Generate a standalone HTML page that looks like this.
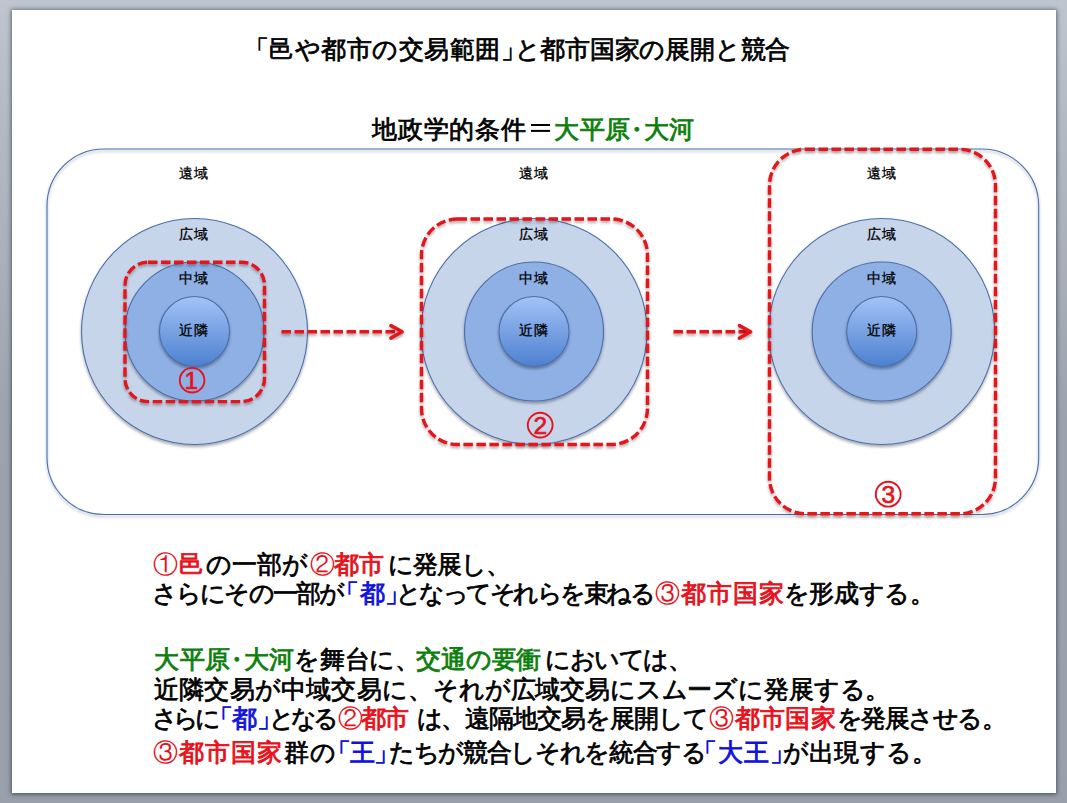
<!DOCTYPE html>
<html lang="ja">
<head>
<meta charset="utf-8">
<style>
html,body{margin:0;padding:0;}
body{width:1067px;height:803px;overflow:hidden;position:relative;
 background:linear-gradient(to bottom,#bec5ce 0px,#b3bac4 120px,#a9b0ba 260px,#9ca3ae 420px,#99a0ab 803px);
 font-family:"Liberation Sans",sans-serif;color:#000;}
#slide{position:absolute;left:12px;top:10px;width:1044px;height:783px;background:#fff;
 box-shadow:0 0 4px 1px rgba(50,56,66,.5),0 2px 4px rgba(40,46,56,.3);}
svg{position:absolute;left:0;top:0;}
.lab{position:absolute;font-size:14px;letter-spacing:1px;text-indent:1px;-webkit-text-stroke-width:0.3px;line-height:1;white-space:nowrap;text-align:center;width:60px;}
.r{color:#e8101a;-webkit-text-stroke-width:0.9px;}
.g{color:#0e7f0e;-webkit-text-stroke-width:0.9px;}
.b{color:#1014dc;-webkit-text-stroke-width:0.9px;}
.ln{position:absolute;left:0;top:0;width:1067px;height:26px;font-size:24.5px;color:#000;line-height:1;-webkit-text-stroke-width:0.75px;}
.s{position:absolute;top:0;white-space:nowrap;}
.big{font-size:25px;}
.cn{-webkit-text-stroke-width:0;}
.ob{margin-left:-0.5em;}
.cb{margin-right:-0.5em;}
.eqbox{position:absolute;left:530.5px;width:19.3px;top:124px;height:2.4px;background:#000;box-shadow:0 5.9px 0 #000;}
.dot{margin:0 -0.25em;}
</style>
</head>
<body>
<div id="slide"></div>
<svg width="1067" height="803" viewBox="0 0 1067 803">
 <defs>
  <radialGradient id="inner" cx="50%" cy="0%" r="100%">
   <stop offset="0" stop-color="#a9c8f8"/>
   <stop offset="1" stop-color="#4a7fd0"/>
  </radialGradient>
  <linearGradient id="innerL" x1="0" y1="0" x2="0" y2="1">
   <stop offset="0" stop-color="#a3c3f6"/>
   <stop offset="1" stop-color="#4d80d0"/>
  </linearGradient>
  <filter id="sh" x="-10%" y="-10%" width="120%" height="120%">
   <feGaussianBlur in="SourceAlpha" stdDeviation="1.5"/>
   <feOffset dx="0" dy="2" result="o"/>
   <feComponentTransfer><feFuncA type="linear" slope="0.35"/></feComponentTransfer>
   <feMerge><feMergeNode/><feMergeNode in="SourceGraphic"/></feMerge>
  </filter>
 </defs>
 <rect x="47" y="149" width="991.7" height="365.5" rx="57" ry="57" fill="none" stroke="#4570ae" stroke-width="1.1" filter="url(#sh)"/>
 <g id="grp">
  <circle cx="194.5" cy="331.5" r="113" fill="#c7d5eb" stroke="#4a6fab" stroke-width="1.1" filter="url(#sh)"/>
  <circle cx="194.5" cy="331.5" r="69.5" fill="#8fb0e5" stroke="#4a6fab" stroke-width="1.1" filter="url(#sh)"/>
  <circle cx="194.5" cy="331.5" r="35" fill="url(#innerL)" stroke="#4a6fab" stroke-width="1.1" filter="url(#sh)"/>
 </g>
 <g>
  <circle cx="534" cy="331.5" r="113" fill="#c7d5eb" stroke="#4a6fab" stroke-width="1.1" filter="url(#sh)"/>
  <circle cx="534" cy="331.5" r="69.5" fill="#8fb0e5" stroke="#4a6fab" stroke-width="1.1" filter="url(#sh)"/>
  <circle cx="534" cy="331.5" r="35" fill="url(#innerL)" stroke="#4a6fab" stroke-width="1.1" filter="url(#sh)"/>
 </g>
 <g>
  <circle cx="881.7" cy="331.5" r="113" fill="#c7d5eb" stroke="#4a6fab" stroke-width="1.1" filter="url(#sh)"/>
  <circle cx="881.7" cy="331.5" r="69.5" fill="#8fb0e5" stroke="#4a6fab" stroke-width="1.1" filter="url(#sh)"/>
  <circle cx="881.7" cy="331.5" r="35" fill="url(#innerL)" stroke="#4a6fab" stroke-width="1.1" filter="url(#sh)"/>
 </g>
 <g fill="none" stroke="#e3141c" stroke-width="3.4" stroke-dasharray="9.5 3.5" filter="url(#sh)">
  <rect x="125" y="262.2" width="139.5" height="139.4" rx="23"/>
  <rect x="421.5" y="219" width="226" height="225.5" rx="36"/>
  <rect x="769.5" y="149.3" width="226" height="364.5" rx="36"/>
  <path d="M281.5 331.8 H400"/>
  <path d="M673.5 331.8 H748"/>
 </g>
 <g fill="none" stroke="#e3141c" stroke-width="3.6" stroke-linecap="round" stroke-linejoin="round" filter="url(#sh)">
  <path d="M391 325.6 L402 331.8 L391 338"/>
  <path d="M739.5 325.6 L750.5 331.8 L739.5 338"/>
 </g>
 <g fill="none" stroke="#e3141c" stroke-width="1.9">
  <circle cx="192.1" cy="380.2" r="12.3"/>
  <circle cx="540.2" cy="425.1" r="12.4"/>
  <circle cx="888.2" cy="494.2" r="12.4"/>
 </g>
 <g fill="#e3141c" stroke="#e3141c" stroke-width="0.7" font-family="Liberation Sans" font-size="24.5" text-anchor="middle">
  <text x="191.2" y="389">1</text>
  <text x="540.2" y="433.9">2</text>
  <text x="888.2" y="503">3</text>
 </g>
</svg>

<div class="lab" style="left:163.5px;top:165.5px">遠域</div>
<div class="lab" style="left:163.5px;top:226.5px">広域</div>
<div class="lab" style="left:163.5px;top:270.5px">中域</div>
<div class="lab" style="left:163.5px;top:322.5px">近隣</div>
<div class="lab" style="left:503px;top:165.5px">遠域</div>
<div class="lab" style="left:503px;top:226.5px">広域</div>
<div class="lab" style="left:503px;top:270.5px">中域</div>
<div class="lab" style="left:503px;top:322.5px">近隣</div>
<div class="lab" style="left:851px;top:165.5px">遠域</div>
<div class="lab" style="left:851px;top:226.5px">広域</div>
<div class="lab" style="left:851px;top:270.5px">中域</div>
<div class="lab" style="left:851px;top:322.5px">近隣</div>

<div class="eqbox"></div>
<!--TEXT-->
<div class="ln big" style="top:36.5px">
<span class="s" id="title_0" style="left:256.4px;letter-spacing:0.51px"><span class="ob">「</span>邑や都市の交易範囲<span class="cb">」</span></span>
<span class="s" id="title_1" style="left:514.5px;letter-spacing:-0.22px">と都市国家の展開と競合</span>
</div>
<div class="ln big" style="top:117.0px">
<span class="s" id="sub_0" style="left:372.3px;letter-spacing:0.67px">地政学的条件</span>
<span class="s g" id="sub_1" style="left:554.1px;letter-spacing:0.54px">大平原<span class="dot">・</span>大河</span>
</div>
<div class="ln" style="top:552.5px">
<span class="s r" id="l1_0" style="left:153.0px;letter-spacing:1.32px"><span class="cn">①</span>邑</span>
<span class="s" id="l1_1" style="left:205.8px;letter-spacing:0.21px">の一部が</span>
<span class="s r" id="l1_2" style="left:310.3px;letter-spacing:-0.84px"><span class="cn">②</span>都市</span>
<span class="s" id="l1_3" style="left:388.0px;letter-spacing:-1.00px">に発展し、</span>
</div>
<div class="ln" style="top:581.5px">
<span class="s" id="l2_0" style="left:151.5px;letter-spacing:-1.72px">さらにその一部が</span>
<span class="s b" id="l2_1" style="left:346.7px;letter-spacing:0.08px"><span class="ob">「</span>都<span class="cb">」</span></span>
<span class="s" id="l2_2" style="left:395.5px;letter-spacing:-2.50px">となってそれらを束ねる</span>
<span class="s r" id="l2_3" style="left:654.5px;letter-spacing:1.02px"><span class="cn">③</span>都市国家</span>
<span class="s" id="l2_4" style="left:783.8px;letter-spacing:-0.33px">を形成する。</span>
</div>
<div class="ln" style="top:647.5px">
<span class="s g" id="l3_0" style="left:154.1px;letter-spacing:0.41px">大平原<span class="dot">・</span>大河</span>
<span class="s" id="l3_1" style="left:294.4px;letter-spacing:-0.39px">を舞台に、</span>
<span class="s g" id="l3_2" style="left:416.0px;letter-spacing:-0.15px">交通の要衝</span>
<span class="s" id="l3_3" style="left:545.4px;letter-spacing:-1.57px">においては、</span>
</div>
<div class="ln" style="top:677.5px">
<span class="s" id="l4_0" style="left:153.8px;letter-spacing:0.24px">近隣交易が中域交易に、</span>
<span class="s" id="l4_1" style="left:433.1px;letter-spacing:-0.16px">それが広域交易にスムーズに発展する。</span>
</div>
<div class="ln" style="top:706.5px">
<span class="s" id="l5_0" style="left:151.8px;letter-spacing:-4.40px">さらに</span>
<span class="s b" id="l5_1" style="left:219.9px;letter-spacing:-0.22px"><span class="ob">「</span>都<span class="cb">」</span></span>
<span class="s" id="l5_2" style="left:269.0px;letter-spacing:-4.24px">となる</span>
<span class="s r" id="l5_3" style="left:337.5px;letter-spacing:-1.70px"><span class="cn">②</span>都市</span>
<span class="s" id="l5_4" style="left:416.5px;letter-spacing:-1.05px">は、遠隔地交易を展開して</span>
<span class="s r" id="l5_5" style="left:709.0px;letter-spacing:0.49px"><span class="cn">③</span>都市国家</span>
<span class="s" id="l5_6" style="left:836.5px;letter-spacing:-1.49px">を発展させる。</span>
</div>
<div class="ln" style="top:740.5px">
<span class="s r" id="l6_0" style="left:153.0px;letter-spacing:1.01px"><span class="cn">③</span>都市国家</span>
<span class="s" id="l6_1" style="left:283.5px;letter-spacing:1.40px">群の</span>
<span class="s b" id="l6_2" style="left:338.2px;letter-spacing:-1.20px"><span class="ob">「</span>王<span class="cb">」</span></span>
<span class="s" id="l6_3" style="left:389.0px;letter-spacing:-1.35px">たちが競合しそれを統合する</span>
<span class="s b" id="l6_4" style="left:704.7px;letter-spacing:0.79px"><span class="ob">「</span>大王<span class="cb">」</span></span>
<span class="s" id="l6_5" style="left:783.4px;letter-spacing:0.04px">が出現する。</span>
</div>
<!--/TEXT-->
</body>
</html>
